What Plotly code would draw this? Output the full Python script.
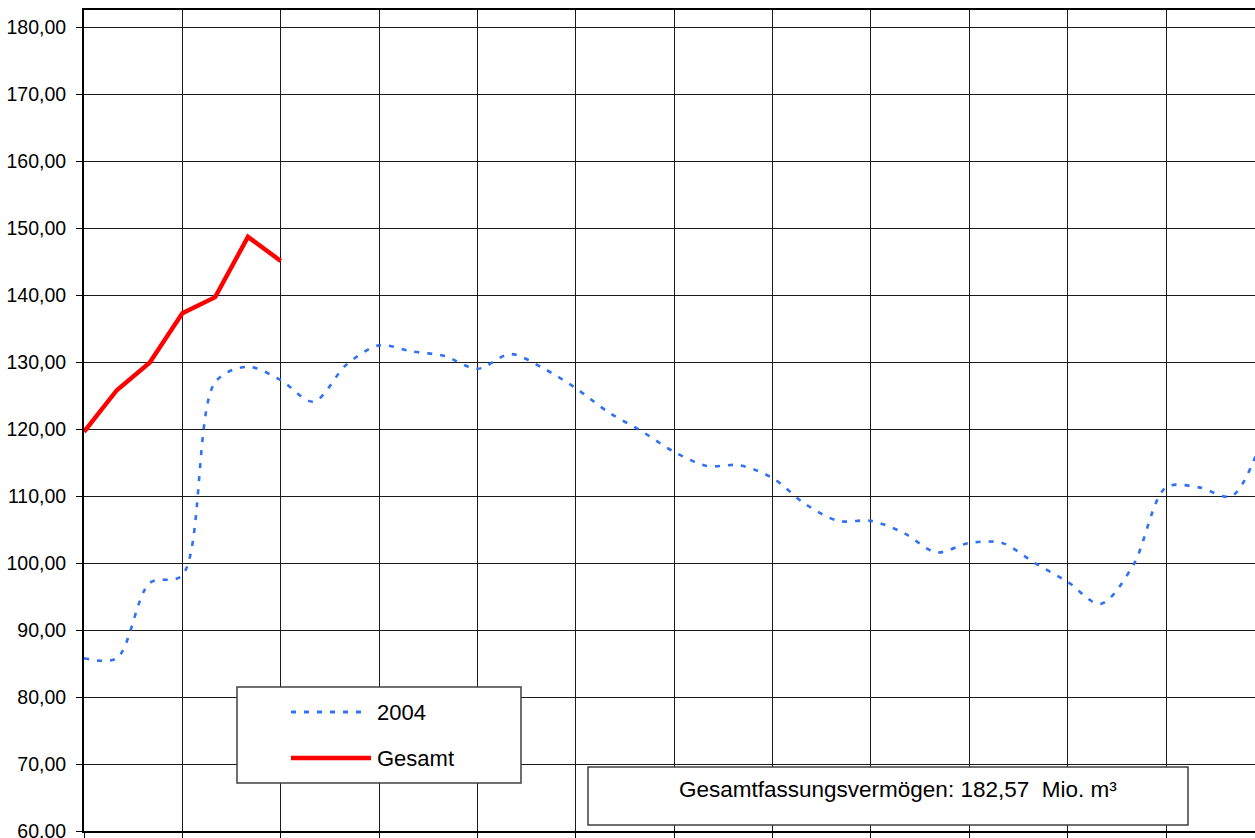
import plotly.graph_objects as go

# ---- data ----
weeks = list(range(1, 38))
series_2004 = [85.8, 85.8, 97.0, 98.2, 127.0, 129.3, 127.3, 124.1, 129.6, 132.5,
               131.6, 130.9, 129.0, 131.2, 129.1, 126.1, 122.5, 119.7, 116.6, 114.5,
               114.6, 112.7, 108.8, 106.3, 106.3, 104.5, 101.6, 103.0, 103.0, 100.0,
               97.2, 93.9, 99.7, 111.3, 111.3, 110.0, 119.5]
gesamt_weeks = weeks[:7]
gesamt = [119.6, 125.8, 129.9, 137.3, 139.7, 148.7, 145.1]
y_ticks = [60, 70, 80, 90, 100, 110, 120, 130, 140, 150, 160, 170, 180]
capacity_text = "Gesamtfassungsvermögen: 182,57 \u00a0Mio. m³"

# body margin is removed by a post script, so figure pixels == page pixels
PL, PR, PT, PB = 84, 1255, 10, 831          # plot area in page pixels
W, H = 1255, 838
L, T = PL, PT
PW, PH = PR - PL, PB - PT
B = H - T - PH

def px(x):
    return (x - PL) / PW

def py(y):
    return (PB - y) / PH

FONT = "Liberation Sans, Arial, sans-serif"
BLUE = "#3071F5"

fig = go.Figure()
fig.add_trace(go.Scatter(
    x=weeks, y=series_2004, mode="lines", name="2004",
    line=dict(color=BLUE, width=2.6, dash="5px,8px", shape="spline", smoothing=0.9),
))
fig.add_trace(go.Scatter(
    x=gesamt_weeks, y=gesamt, mode="lines", name="Gesamt",
    line=dict(color="#FF0000", width=4.4),
))

shapes = []
# legend box
shapes.append(dict(type="rect", xref="paper", yref="paper",
                   x0=px(237), x1=px(521), y0=py(783), y1=py(687),
                   line=dict(color="#404040", width=1.5), fillcolor="white", layer="above"))
shapes.append(dict(type="line", xref="paper", yref="paper",
                   x0=px(291), x1=px(364), y0=py(712), y1=py(712),
                   line=dict(color=BLUE, width=3, dash="5px,8px"), layer="above"))
shapes.append(dict(type="line", xref="paper", yref="paper",
                   x0=px(291), x1=px(371), y0=py(758), y1=py(758),
                   line=dict(color="#FF0000", width=4.4), layer="above"))
# capacity box
shapes.append(dict(type="rect", xref="paper", yref="paper",
                   x0=px(588), x1=px(1188), y0=py(825), y1=py(767),
                   line=dict(color="#404040", width=1.5), fillcolor="white", layer="above"))

annotations = [
    dict(xref="paper", yref="paper", x=px(375), y=py(712), text="2004", showarrow=False,
         xanchor="left", yanchor="middle", font=dict(family=FONT, size=22, color="black")),
    dict(xref="paper", yref="paper", x=px(375), y=py(758), text="Gesamt", showarrow=False,
         xanchor="left", yanchor="middle", font=dict(family=FONT, size=22, color="black")),
    dict(xref="paper", yref="paper", x=px(898), y=py(789), text=capacity_text, showarrow=False,
         xanchor="center", yanchor="middle", font=dict(family=FONT, size=22.5, color="black")),
]

fig.update_layout(
    width=W, height=H,
    margin=dict(l=L, r=0, t=T, b=B, autoexpand=False),
    paper_bgcolor="white", plot_bgcolor="white",
    showlegend=False,
    separators=",.",
    font=dict(family=FONT, size=19.5, color="black"),
    shapes=shapes, annotations=annotations,
)
fig.update_xaxes(
    range=[1, 1 + PW / 32.79], tick0=1, dtick=3, showticklabels=False,
    showgrid=True, gridcolor="#1a1a1a", gridwidth=1, zeroline=False,
    showline=True, linecolor="black", linewidth=2, mirror=True,
    ticks="outside", ticklen=7, tickcolor="black", tickwidth=1,
)
fig.update_yaxes(
    range=[60, 182.57], tickvals=y_ticks, tickformat=".2f",
    showgrid=True, gridcolor="#1a1a1a", gridwidth=1, zeroline=False,
    showline=True, linecolor="black", linewidth=2,
    ticks="outside", ticklen=6, tickcolor="black", tickwidth=1,
    ticklabelstandoff=6, ticklabeloverflow="allow",
    tickfont=dict(family=FONT, size=19.5, color="black"),
)

fig.write_html(
    "out.html",
    config={"displayModeBar": False},
    post_script="document.body.style.margin='0';document.body.style.overflow='hidden';"
                "document.documentElement.style.overflow='hidden';",
)
